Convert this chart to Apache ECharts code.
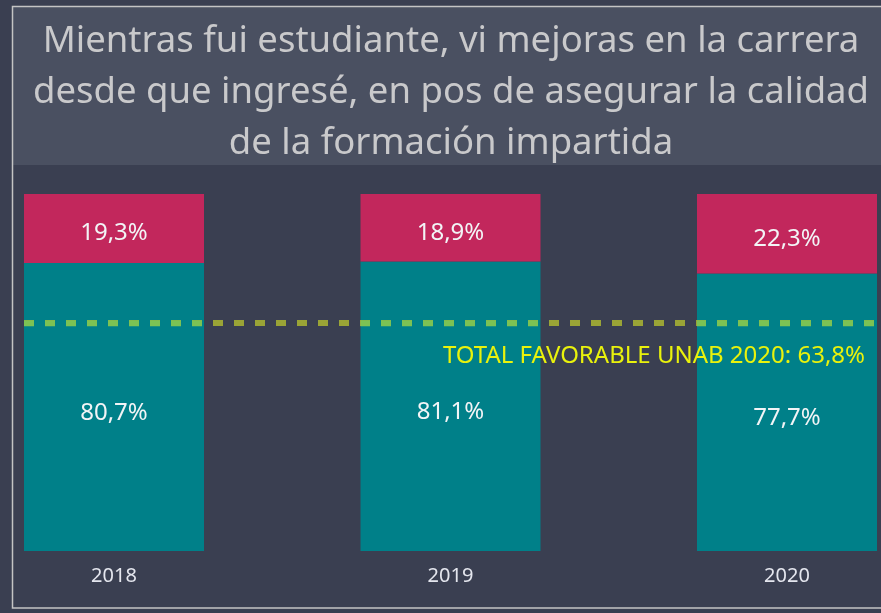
<!DOCTYPE html>
<html>
<head>
<meta charset="utf-8">
<script src="https://cdn.jsdelivr.net/npm/echarts@6/dist/echarts.min.js"></script>
<style>
  html, body { margin: 0; padding: 0; background: #3a3f51; }
  #chart { width: 881px; height: 613px; }
</style>
</head>
<body>
<div id="chart"></div>
<script>
// Survey years
const years = ['2018', '2019', '2020'];
// Share of favourable answers (%)
const favorable = [80.7, 81.1, 77.7];
// Share of unfavourable answers (%)
const unfavorable = [19.3, 18.9, 22.3];
// University-wide favourable benchmark (%)
const benchmarkValue = 63.8;
const benchmarkLabel = 'TOTAL FAVORABLE UNAB 2020: 63,8%';
const titleText = 'Mientras fui estudiante, vi mejoras en la carrera\ndesde que ingresé, en pos de asegurar la calidad\nde la formación impartida';

const FONT = '"Noto Sans", "Open Sans", sans-serif';
const BAR_W = 180;
const DASH = [10, 11];
const REF_LEFT = 24;

const fmt = v => v.toFixed(1).replace('.', ',') + '%';

const chart = echarts.init(document.getElementById('chart'), null, { renderer: 'canvas' });

chart.setOption({
  backgroundColor: '#3a3f51',
  animation: false,
  graphic: [
    { type: 'rect', z: -10, silent: true,
      shape: { x: 13, y: 7, width: 880, height: 158 },
      style: { fill: '#4a5061' } },
    { type: 'rect', z: 100, silent: true,
      shape: { x: 12.5, y: 6.5, width: 900, height: 601.5 },
      style: { fill: 'none', stroke: '#c4c4c4', lineWidth: 1.5 } }
  ],
  title: {
    text: titleText,
    left: 446,
    textAlign: 'center',
    top: 11,
    textStyle: {
      fontFamily: FONT,
      fontWeight: 'normal',
      fontSize: 36.5,
      lineHeight: 51,
      color: '#c9c9cb'
    }
  },
  grid: [
    { left: 114, right: 94, top: 194, bottom: 62 },
    { left: REF_LEFT, right: 4, top: 194, bottom: 62 }
  ],
  xAxis: [
    {
      type: 'category', gridIndex: 0, data: years, boundaryGap: false,
      axisLine: { show: false }, axisTick: { show: false },
      axisLabel: { color: '#e4e6ee', fontSize: 20, fontFamily: FONT, margin: 15 }
    },
    { type: 'value', gridIndex: 1, min: 0, max: 1, show: false }
  ],
  yAxis: [
    { type: 'value', gridIndex: 0, min: 0, max: 100, show: false },
    { type: 'value', gridIndex: 1, min: 0, max: 100, show: false }
  ],
  series: [
    {
      name: 'Favorable', type: 'bar', stack: 'total', barWidth: BAR_W,
      xAxisIndex: 0, yAxisIndex: 0, z: 2,
      data: favorable,
      itemStyle: { color: '#008089' },
      label: { show: true, position: 'inside', offset: [0, 6], formatter: p => fmt(p.value),
               color: '#f2f4f6', fontSize: 24, fontFamily: FONT }
    },
    {
      name: 'Desfavorable', type: 'bar', stack: 'total', barWidth: BAR_W,
      xAxisIndex: 0, yAxisIndex: 0, z: 2,
      data: unfavorable,
      itemStyle: { color: '#c2275c' },
      label: { show: true, position: 'inside', offset: [0, 5], formatter: p => fmt(p.value),
               color: '#f2f4f6', fontSize: 24, fontFamily: FONT }
    },
    {
      // benchmark line across the plot
      name: 'Referencia', type: 'line', xAxisIndex: 1, yAxisIndex: 1, z: 5,
      data: [], silent: true,
      markLine: {
        silent: true, symbol: 'none', animation: false,
        lineStyle: { color: '#9aa436', width: 6, type: DASH },
        label: {
          show: true, position: 'insideEndBottom', distance: [12, 21],
          formatter: benchmarkLabel, color: '#e9f20c', fontSize: 24, fontFamily: FONT
        },
        data: [{ yAxis: benchmarkValue }]
      }
    },
    {
      // brighter dash segments where the benchmark crosses a bar
      name: 'ReferenciaBarra', type: 'custom', xAxisIndex: 0, yAxisIndex: 0, z: 6,
      silent: true,
      data: years.map((y, i) => [i, benchmarkValue]),
      renderItem: (params, api) => {
        const p = api.coord([api.value(0), api.value(1)]);
        const x0 = p[0] - BAR_W / 2, x1 = p[0] + BAR_W / 2;
        const period = DASH[0] + DASH[1];
        return {
          type: 'line',
          shape: { x1: x0, y1: p[1], x2: x1, y2: p[1] },
          style: { stroke: '#7cc254', lineWidth: 6, lineDash: DASH,
                   lineDashOffset: (x0 - REF_LEFT) % period }
        };
      }
    }
  ]
});
</script>
</body>
</html>
